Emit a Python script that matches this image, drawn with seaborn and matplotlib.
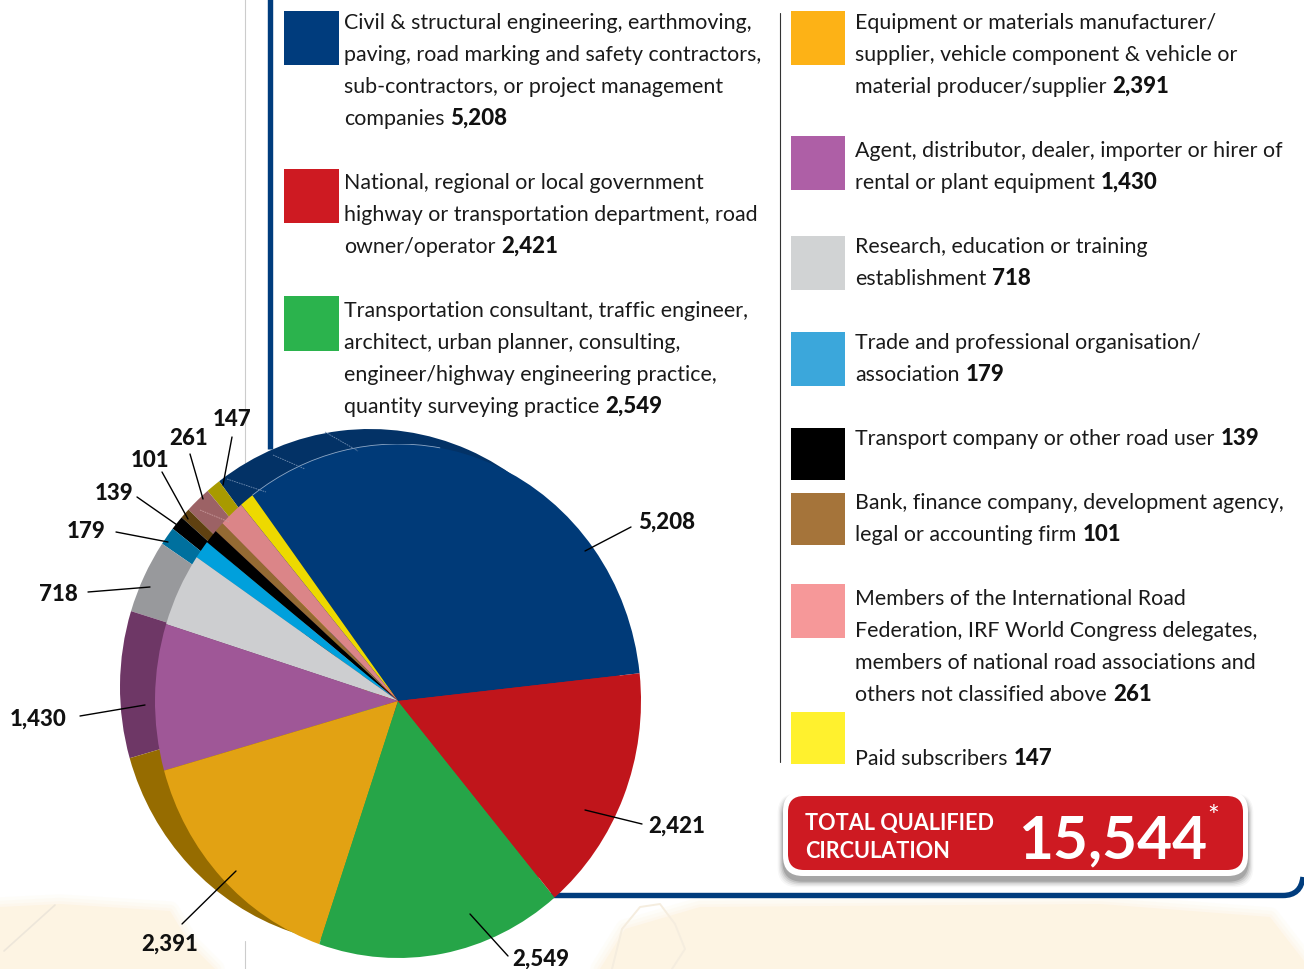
import matplotlib
matplotlib.use("Agg")
import matplotlib.pyplot as plt
import seaborn as sns
from matplotlib.patches import Arc, FancyBboxPatch, PathPatch, Polygon, Rectangle
from matplotlib.path import Path

# Circulation by reader category, in pie order (counter-clockwise)
pie_values = [5208, 147, 261, 101, 139, 179, 718, 1430, 2391, 2549, 2421]
pie_labels = ["5,208", "147", "261", "101", "139", "179", "718", "1,430", "2,391", "2,549", "2,421"]

face_hex = ["#003A78", "#EDD900", "#DB8588", "#946A33", "#000000", "#00A0DC",
            "#CDCED0", "#9F5797", "#E2A213", "#26A548", "#C0151B"]
side_hex = ["#033266", "#A89A00", "#9C6265", "#5F4111", "#000000", "#00709E",
            "#98999C", "#6E3766", "#966C00", "#26A548", "#C0151B"]

left_legend = [
    (["Civil & structural engineering, earthmoving,",
      "paving, road marking and safety contractors,",
      "sub-contractors, or project management",
      "companies"], "5,208", "#003C7D"),
    (["National, regional or local government",
      "highway or transportation department, road",
      "owner/operator"], "2,421", "#CE1A22"),
    (["Transportation consultant, traffic engineer,",
      "architect, urban planner, consulting,",
      "engineer/highway engineering practice,",
      "quantity surveying practice"], "2,549", "#2BB34D"),
]
right_legend = [
    (["Equipment or materials manufacturer/",
      "supplier, vehicle component & vehicle or",
      "material producer/supplier"], "2,391", "#FDB216"),
    (["Agent, distributor, dealer, importer or hirer of",
      "rental or plant equipment"], "1,430", "#AE5FA6"),
    (["Research, education or training",
      "establishment"], "718", "#D1D3D4"),
    (["Trade and professional organisation/",
      "association"], "179", "#3BA7DB"),
    (["Transport company or other road user"], "139", "#000000"),
    (["Bank, finance company, development agency,",
      "legal or accounting firm"], "101", "#A5743A"),
    (["Members of the International Road",
      "Federation, IRF World Congress delegates,",
      "members of national road associations and",
      "others not classified above"], "261", "#F69899"),
    (["", "Paid subscribers"], "147", "#FFF12E"),
]
total_title = ["TOTAL QUALIFIED", "CIRCULATION"]
total_value = "15,544"

# Page layout, in pixels from the top-left corner
W, H = 1304, 970
left_blocks = [(11, 65, 29), (169, 223, 189), (296, 351, 317)]
right_blocks = [(11, 65, 29), (136, 190, 157), (236, 290, 253), (332, 386, 349),
                (428, 480, 445), (493, 545, 509), (584, 638, 605), (712, 764, 733)]
callouts = {
    "5,208": ((585, 552), (631, 528), (667, 529)),
    "2,421": ((585, 811), (642, 825), (677, 833)),
    "2,549": ((470, 915), (508, 957), (541, 966)),
    "2,391": ((236, 872), (182, 925), (170, 951)),
    "1,430": ((145, 706), (80, 717), (38, 726)),
    "718": ((150, 588), (88, 593), (58, 601)),
    "179": ((168, 543), (116, 533), (86, 538)),
    "139": ((180, 528), (137, 498), (114, 500)),
    "101": ((188, 520), (162, 473), (150, 467)),
    "261": ((203, 500), (190, 455), (189, 445)),
    "147": ((223, 486), (232, 438), (232, 426)),
}

sns.set_theme(style="white", font="Lato")
plt.rcParams["font.family"] = ["Lato", "DejaVu Sans"]
face_colors = sns.color_palette(face_hex)
side_colors = sns.color_palette(side_hex)

fig = plt.figure(figsize=(W / 100, H / 100), dpi=100, facecolor="white")


def pixel_axes(x0, y0, x1, y1, z):
    ax = fig.add_axes([x0 / W, 1 - y1 / H, (x1 - x0) / W, (y1 - y0) / H], zorder=z)
    ax.patch.set_alpha(0)
    return ax


# Page furniture behind the pie
back = pixel_axes(0, 0, W, H, 0)
back.set_xlim(0, W)
back.set_ylim(H, 0)
back.axis("off")
cream = "#FDF4E3"
map_shapes = [
    [(0, 908), (60, 905), (170, 912), (190, 945), (215, 970), (0, 970)],
    [(625, 930), (700, 908), (1100, 905), (1270, 918), (1304, 962), (1304, 970), (600, 970)],
]
for shape in map_shapes:
    # Feathered outline so the map tint fades into the page
    for width, alpha in [(14, 0.18), (9, 0.25), (4, 0.35)]:
        back.add_patch(Polygon(shape, fc="none", ec=cream, lw=width, alpha=alpha, joinstyle="round"))
    back.add_patch(Polygon(shape, fc=cream, ec="none"))
back.plot([4, 55], [952, 906], color="#EDE6DA", lw=1.2)
back.plot([612, 622, 640, 660, 675, 685, 672], [970, 930, 908, 905, 925, 950, 970],
          color="#F5EDDF", lw=1.4)
back.plot([244.5, 244.5], [0, 490], color="#CCCCCC", lw=0.8)
back.plot([244.5, 244.5], [942, 970], color="#CCCCCC", lw=0.8)
back.plot([269.5, 269.5], [0, 450], color="#003C7D", lw=3.9, solid_capstyle="butt")
corner = Path([(520, 896.5), (1283, 896.5), (1301, 896.5), (1303, 878)],
              [Path.MOVETO, Path.LINETO, Path.CURVE3, Path.CURVE3])
back.add_patch(PathPatch(corner, fc="none", ec="#003C7D", lw=3.9))
back.plot([779.5, 779.5], [14, 763], color="#333333", lw=0.8)

# The pie: a darker rim offset behind the elliptical top face
rim = pixel_axes(120, 430, 620, 946, 1)
rim.pie(pie_values, colors=side_colors, startangle=6.5, counterclock=True,
        wedgeprops={"linewidth": 0})
rim.set_aspect("auto")
rim.set_xlim(-1, 1)
rim.set_ylim(-1, 1)

face = pixel_axes(155, 445, 641, 959, 2)
face.pie(pie_values, colors=face_colors, startangle=6.2, counterclock=True,
         wedgeprops={"linewidth": 0})
face.set_aspect("auto")
face.set_xlim(-1, 1)
face.set_ylim(-1, 1)
face.add_patch(Arc((0, 0), 2, 2, theta1=80, theta2=126.8, color="#8FA8C6", lw=0.6))

# Legend text, callouts and the total box
top = pixel_axes(0, 0, W, H, 3)
top.set_xlim(0, W)
top.set_ylim(H, 0)
top.axis("off")
renderer = fig.canvas.get_renderer()
TEXT_PT = 15.4
BOLD_PT = 16.0
LINE_STEP = 32
INK = "#1A1A1A"


# Segment edges drawn as fine pale dashes on the navy and pink parts of the rim
for (x0, y0), (x1, y1) in [((227, 480), (266, 493)), ((273, 456), (305, 470)),
                           ((325, 433), (358, 452))]:
    top.plot([x0, x1], [y0, y1], color="#6F8CB0", lw=0.6, ls=(0, (2, 1)))
top.plot([200, 229], [511, 523], color="#C89A9C", lw=0.6, ls=(0, (2, 1)))


def legend_column(entries, blocks, swatch_x0, swatch_x1, text_x):
    for (lines, value, color), (sy0, sy1, baseline) in zip(entries, blocks):
        top.add_patch(Rectangle((swatch_x0, sy0 + 0.5), swatch_x1 - swatch_x0, sy1 - sy0,
                                fc=color, ec="none"))
        for i, line in enumerate(lines):
            y = baseline + i * LINE_STEP
            if line:
                t = top.text(text_x, y, line, fontsize=TEXT_PT, color=INK, va="baseline")
        x1 = top.transData.inverted().transform(t.get_window_extent(renderer))[1][0]
        top.text(x1 + 6, y, value, fontsize=BOLD_PT, fontweight="black", color="#111111",
                 va="baseline")


legend_column(left_legend, left_blocks, 284, 338.5, 344)
legend_column(right_legend, right_blocks, 791, 845, 855)

for label in pie_labels:
    start, end, text_at = callouts[label]
    top.plot([start[0], end[0]], [start[1], end[1]], color="black", lw=1.0)
    top.text(text_at[0], text_at[1], label, fontsize=BOLD_PT, fontweight="black",
             color="#111111", ha="center", va="baseline")

# Soft drop shadow under the total box
for grow, alpha in [(9, 0.03), (7, 0.05), (5, 0.07), (3, 0.10), (1, 0.14)]:
    top.add_patch(FancyBboxPatch((783 - grow * 0.6, 797 - grow * 0.3), 465 + grow * 1.2, 85 + grow,
                                 boxstyle="round,pad=0,rounding_size=20",
                                 fc="black", ec="none", alpha=alpha))
top.add_patch(FancyBboxPatch((783, 792), 465, 85, boxstyle="round,pad=0,rounding_size=20",
                             fc="white", ec="none"))
top.add_patch(FancyBboxPatch((788, 797), 455, 74, boxstyle="round,pad=0,rounding_size=16",
                             fc="#CE1A22", ec="none"))
top.text(805, 830, total_title[0], fontsize=15.6, fontweight="bold", color="white", va="baseline")
top.text(805, 858, total_title[1], fontsize=15.6, fontweight="bold", color="white", va="baseline")
top.text(1113, 858, total_value, fontsize=43.5, fontweight="bold", color="white",
         ha="center", va="baseline")
top.text(1207, 826, "*", fontsize=20, color="white", ha="left", va="baseline")

fig.savefig("out.png", dpi=100)
